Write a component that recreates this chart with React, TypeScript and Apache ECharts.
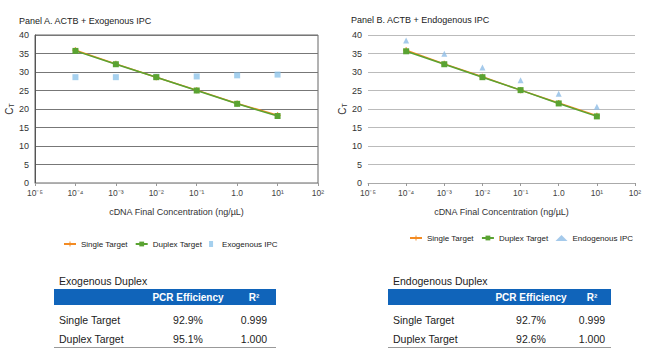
import React, { useEffect, useRef } from "react";
import * as echarts from "echarts";

const xLabels = ["10⁻⁵", "10⁻⁴", "10⁻³", "10⁻²", "10⁻¹", "1.0", "10¹", "10²"];
const singleA = [null, 35.9, 32.2, 28.6, 25.1, 21.5, 18.3, null];
const duplexA = [null, 35.7, 32.1, 28.6, 25.0, 21.4, 18.1, null];
const exoIPC = [null, 28.6, 28.6, 28.7, 28.8, 29.1, 29.3, null];
const singleB = [null, 35.9, 32.2, 28.7, 25.1, 21.6, 18.2, null];
const duplexB = [null, 35.6, 32.1, 28.6, 25.1, 21.5, 18.0, null];
const endoIPC = [null, 38.5, 34.9, 31.2, 27.8, 24.1, 20.6, null];

const tableHeader = ["PCR Efficiency", "R²"];
const rowNames = ["Single Target", "Duplex Target"];
const exoTable = [["92.9%", "0.999"], ["95.1%", "1.000"]];
const endoTable = [["92.7%", "0.999"], ["92.6%", "1.000"]];

const FONT = "Liberation Sans, Arial, sans-serif";
const ORANGE = "#f38b23";
const GREEN = "#5aa332";
const BLUE = "#1064ba";
const PLUS = "path://M4,0 L6,0 L6,4 L10,4 L10,6 L6,6 L6,10 L4,10 L4,6 L0,6 L0,4 L4,4 Z";
const SMALLSQ = "path://M3,0 L7,0 L7,6 L3,6 Z";

function table(x0: number, x1: number, colX: number[], title: string, vals: string[][]) {
  const els: any[] = [];
  els.push({ type: "text", x: x0 + 5, y: 281, style: { text: title, font: `10.5px ${FONT}`, fill: "#222", verticalAlign: "middle" } });
  els.push({ type: "rect", shape: { x: x0, y: 289, width: x1 - x0, height: 16 }, style: { fill: BLUE } });
  tableHeader.forEach((h, i) => {
    els.push({ type: "text", x: colX[i], y: 297, style: { text: h, font: `bold 10px ${FONT}`, fill: "#fff", align: "center", verticalAlign: "middle" } });
  });
  rowNames.forEach((r, j) => {
    const y = 320 + j * 19;
    els.push({ type: "text", x: x0 + 5, y, style: { text: r, font: `10.5px ${FONT}`, fill: "#222", verticalAlign: "middle" } });
    vals[j].forEach((v, i) => {
      els.push({ type: "text", x: colX[i], y, style: { text: v, font: `10.5px ${FONT}`, fill: "#222", align: "center", verticalAlign: "middle" } });
    });
  });
  els.push({ type: "line", shape: { x1: x0, y1: 347.5, x2: x1, y2: 347.5 }, style: { stroke: "#999", lineWidth: 1 } });
  return els;
}

export default function App() {
  const ref = useRef<HTMLDivElement>(null);
  useEffect(() => {
    const chart = echarts.init(ref.current!, null, { renderer: "svg" });
    const xAxis = (gi: number) => ({
      type: "category",
      gridIndex: gi,
      data: xLabels,
      boundaryGap: false,
      name: "cDNA Final Concentration (ng/µL)",
      nameLocation: "middle",
      nameGap: 24,
      nameTextStyle: { fontSize: 9, color: "#333", fontFamily: FONT },
      axisLine: { show: true, lineStyle: { color: "#aaa" } },
      axisTick: { show: true, length: 3, lineStyle: { color: "#999" } },
      axisLabel: { fontSize: 8.5, color: "#444", fontFamily: FONT, margin: 5 },
      splitLine: { show: false },
    });
    const yAxis = (gi: number, gridColor: string) => ({
      type: "value",
      gridIndex: gi,
      min: 0,
      max: 40,
      interval: 5,
      name: "{c|C}{t|T}",
      nameLocation: "middle",
      nameGap: 20,
      nameRotate: 90,
      nameTextStyle: { rich: { c: { fontSize: 10, color: "#333", fontFamily: FONT }, t: { fontSize: 7, color: "#333", fontFamily: FONT, verticalAlign: "bottom", padding: [4, 0, 0, 0] } } },
      axisLine: { show: gi === 0, lineStyle: { color: "#555" } },
      axisTick: { show: false },
      axisLabel: { fontSize: 9, color: "#333", fontFamily: FONT, margin: 6 },
      splitLine: { show: true, lineStyle: { color: gridColor, width: 1 } },
    });
    const lineSeries = (name: string, data: any[], color: string, symbol: string, size: number, idx: number) => ({
      name,
      type: "line",
      xAxisIndex: idx,
      yAxisIndex: idx,
      data,
      symbol,
      symbolSize: size,
      lineStyle: { color, width: 1.5 },
      itemStyle: { color },
      connectNulls: false,
    });
    const legendCommon = {
      itemWidth: 12, itemHeight: 6, itemGap: 7, width: 300,
      textStyle: { fontSize: 8, color: "#222", fontFamily: FONT },
    };
    const option: any = {
      animation: false,
      textStyle: { fontFamily: FONT },
      title: [
        { text: "Panel A. ACTB + Exogenous IPC", left: 14, top: 11, textStyle: { fontSize: 9, fontWeight: "normal", color: "#222", fontFamily: FONT } },
        { text: "Panel B. ACTB + Endogenous IPC", left: 346, top: 10, textStyle: { fontSize: 9, fontWeight: "normal", color: "#222", fontFamily: FONT } },
      ],
      grid: [
        { left: 35, right: 332, top: 35, bottom: 173, show: true, borderColor: "#666", borderWidth: 1, backgroundColor: "transparent" },
        { left: 368, right: 15, top: 35, bottom: 173 },
      ],
      xAxis: [xAxis(0), xAxis(1)],
      yAxis: [yAxis(0, "#777"), yAxis(1, "#bbb")],
      legend: [
        { ...legendCommon, data: ["Single Target", "Duplex Target", { name: "Exogenous IPC", icon: SMALLSQ }], left: 58, top: 235 },
        { ...legendCommon, data: ["Single Target ", "Duplex Target ", "Endogenous IPC"], left: 404, top: 229, itemGap: 5 },
      ],
      series: [
        lineSeries("Single Target", singleA, ORANGE, PLUS, 6, 0),
        lineSeries("Duplex Target", duplexA, GREEN, "rect", 6, 0),
        { name: "Exogenous IPC", type: "scatter", xAxisIndex: 0, yAxisIndex: 0, data: exoIPC, symbol: "rect", symbolSize: 6, itemStyle: { color: "#8ec4ea" } },
        lineSeries("Single Target ", singleB, ORANGE, PLUS, 6, 1),
        lineSeries("Duplex Target ", duplexB, GREEN, "rect", 6, 1),
        { name: "Endogenous IPC", type: "scatter", xAxisIndex: 1, yAxisIndex: 1, data: endoIPC, symbol: "triangle", symbolSize: 6, itemStyle: { color: "#8fbde6" } },
      ],
      graphic: [
        ...table(54, 276, [188, 254], "Exogenous Duplex", exoTable),
        ...table(388, 611, [531, 592], "Endogenous Duplex", endoTable),
      ],
    };
    chart.setOption(option);
    return () => chart.dispose();
  }, []);
  return <div ref={ref} style={{ position: "absolute", left: 0, top: 0, width: 650, height: 356, background: "#fff" }} />;
}
